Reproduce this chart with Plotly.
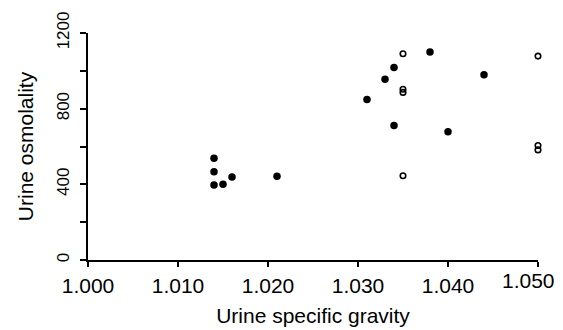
import plotly.graph_objects as go

# Data
filled_x = [1.014, 1.014, 1.014, 1.015, 1.016, 1.021, 1.031, 1.033, 1.034, 1.034, 1.038, 1.040, 1.044]
filled_y = [538, 466, 397, 401, 439, 443, 848, 956, 1018, 711, 1099, 678, 979]
open_x = [1.035, 1.035, 1.035, 1.035, 1.050, 1.050, 1.050]
open_y = [1090, 903, 886, 445, 1078, 605, 582]

x_tickvals = [1.000, 1.010, 1.020, 1.030, 1.040, 1.050]
x_ticktext = ["1.000", "1.010", "1.020", "1.030", "1.040", "1.050"]
y_tickvals = [0, 200, 400, 600, 800, 1000, 1200]
y_ticktext = ["0", "", "400", "", "800", "", "1200"]

x_title = "Urine specific gravity"
y_title = "Urine osmolality"

FONT = "Liberation Sans, Arial, sans-serif"

# the last x label sits slightly left of its tick in the reference (kept inside the frame),
# so it is drawn as an annotation anchored at its tick value
x_labels = x_ticktext[:-1] + [""]

fig = go.Figure()
fig.add_trace(go.Scatter(
    x=filled_x, y=filled_y, mode="markers", cliponaxis=False,
    marker=dict(symbol="circle", size=7.5, color="black", line=dict(width=0)),
    showlegend=False,
))
fig.add_trace(go.Scatter(
    x=open_x, y=open_y, mode="markers", cliponaxis=False,
    marker=dict(symbol="circle-open", size=5.5, color="black", line=dict(width=1.6, color="black")),
    showlegend=False,
))

fig.add_annotation(
    x=x_tickvals[-1], xref="x", y=0, yref="paper",
    text=x_ticktext[-1], showarrow=False,
    xanchor="right", yanchor="middle", xshift=19, yshift=-20,
    font=dict(family=FONT, size=21, color="black"),
)

# the page body has an 8px margin, so the figure is sized to fit the 563x330 window
fig.update_layout(
    width=555, height=322,
    margin=dict(l=80, r=25, t=25, b=70, pad=0),
    paper_bgcolor="white", plot_bgcolor="white",
    font=dict(family=FONT, color="black", size=21),
    xaxis=dict(
        range=[1.000, 1.0500001], tickvals=x_tickvals, ticktext=x_labels,
        showgrid=False, zeroline=False, showline=True, linecolor="black", linewidth=2,
        ticks="outside", ticklen=5, tickwidth=2, tickcolor="black",
        tickfont=dict(family=FONT, size=21, color="black"),
        ticklabelstandoff=1, ticklabeloverflow="allow",
        title=dict(text=x_title, font=dict(family=FONT, size=21, color="black"), standoff=12),
        automargin=False,
    ),
    yaxis=dict(
        range=[0, 1200], tickvals=y_tickvals, ticktext=y_ticktext,
        showgrid=False, zeroline=False, showline=True, linecolor="black", linewidth=2,
        ticks="outside", ticklen=6, tickwidth=2, tickcolor="black",
        tickangle=-90,
        tickfont=dict(family=FONT, size=17, color="black"),
        ticklabelstandoff=4, ticklabeloverflow="allow",
        title=dict(text=y_title, font=dict(family=FONT, size=21, color="black"), standoff=15),
        automargin=False,
    ),
)

fig.write_html("out.html")
